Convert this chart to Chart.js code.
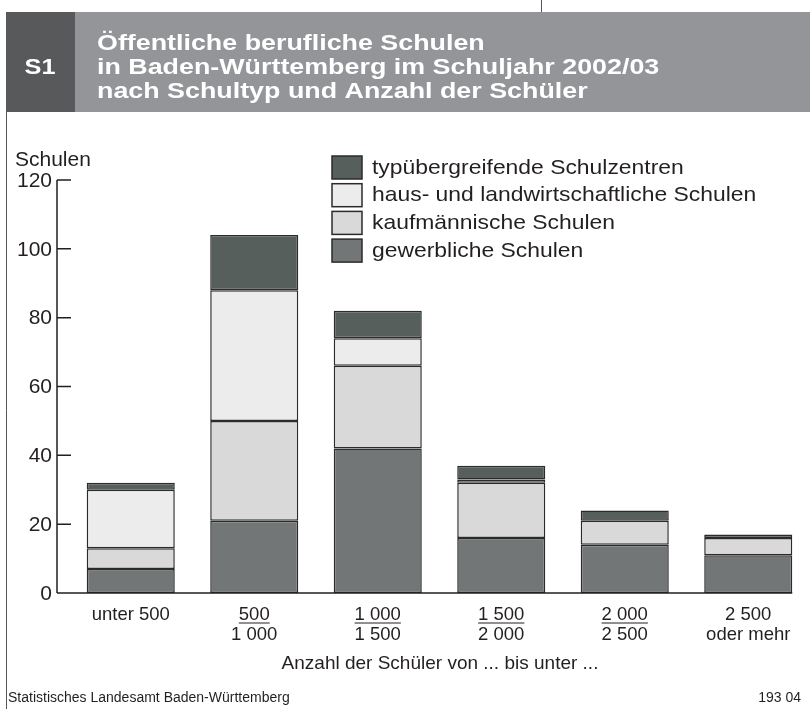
<!DOCTYPE html>
<html>
<head>
<meta charset="utf-8">
<script src="https://cdn.jsdelivr.net/npm/chart.js@4.4.1/dist/chart.umd.min.js"></script>
<style>
  body { margin: 0; background: #fff; overflow: hidden; }
  #wrap { position: relative; width: 810px; height: 709px; }
</style>
</head>
<body>
<div id="wrap"><canvas id="schulChart" width="810" height="709"></canvas></div>
<script>
// Daten
const kategorien = ['unter 500', '500 - 1 000', '1 000 - 1 500', '1 500 - 2 000', '2 000 - 2 500', '2 500 oder mehr'];
const labelOben = ['unter 500', '500', '1 000', '1 500', '2 000', '2 500'];
const labelUnten = ['', '1 000', '1 500', '2 000', '2 500', 'oder mehr'];
const unterstrichen = [false, true, true, true, true, false];

const gewerblich = [7, 21, 42, 16, 14, 11];
const kaufmaennisch = [6, 29, 24, 16, 7, 5];
const hauswirtschaft = [17, 38, 8, 1, 0, 0];
const typuebergreifend = [2, 16, 8, 4, 3, 1];

const yTicks = [0, 20, 40, 60, 80, 100, 120];

const titelZeilen = [
  'Öffentliche berufliche Schulen',
  'in Baden-Württemberg im Schuljahr 2002/03',
  'nach Schultyp und Anzahl der Schüler'
];

const FONT = '"Liberation Sans", Arial, Helvetica, sans-serif';
const RAND = '#2b2b2b';

const ctx = document.getElementById('schulChart').getContext('2d');

// Text mit horizontaler Streckung (die Vorlage nutzt eine breitere Schrift)
function breitText(c, txt, x, y, sx) {
  c.save();
  c.translate(x, y);
  c.scale(sx, 1);
  c.fillText(txt, 0, 0);
  c.restore();
}

// alles was nicht Balken ist, wird hier gezeichnet
const rahmenPlugin = {
  id: 'rahmen',
  beforeDraw(chart) {
    const c = chart.ctx;
    c.save();
    c.fillStyle = '#fff';
    c.fillRect(0, 0, 810, 709);
    // Kopfzeile
    c.fillStyle = '#939598';
    c.fillRect(6, 12, 804, 100);
    c.fillStyle = '#58595b';
    c.fillRect(6, 12, 69, 100);
    c.fillStyle = '#fff';
    c.font = 'bold 22px ' + FONT;
    c.textAlign = 'center';
    c.textBaseline = 'alphabetic';
    breitText(c, 'S1', 40, 74, 1.15);
    c.textAlign = 'left';
    c.font = 'bold 22px ' + FONT;
    titelZeilen.forEach((z, i) => breitText(c, z, 97, 50 + i * 24, 1.22));
    // Linien
    c.strokeStyle = '#555';
    c.lineWidth = 1;
    c.beginPath();
    c.moveTo(541.5, 0); c.lineTo(541.5, 12);
    c.moveTo(6.5, 112); c.lineTo(6.5, 709);
    c.stroke();
    c.restore();
  },
  afterDatasetsDraw(chart) {
    const c = chart.ctx;
    const y = chart.scales.y;
    const x = chart.scales.x;
    const achseX = 57;
    c.save();
    c.strokeStyle = '#231f20';
    c.lineWidth = 1.5;
    c.beginPath();
    c.moveTo(achseX, y.getPixelForValue(120));
    c.lineTo(achseX, y.getPixelForValue(0));
    yTicks.forEach(t => {
      const py = y.getPixelForValue(t);
      c.moveTo(achseX, py);
      c.lineTo(achseX + 14, py);
    });
    // Grundlinie
    const ende = x.getPixelForValue(5) + 44;
    c.moveTo(achseX, y.getPixelForValue(0));
    c.lineTo(ende, y.getPixelForValue(0));
    c.stroke();

    c.fillStyle = '#231f20';
    c.font = '21px ' + FONT;
    c.textAlign = 'right';
    c.textBaseline = 'middle';
    yTicks.forEach(t => c.fillText(String(t), 52, y.getPixelForValue(t) + 1));

    c.textAlign = 'left';
    c.textBaseline = 'alphabetic';
    c.font = '20px ' + FONT;
    breitText(c, 'Schulen', 15, 166, 1.05);

    // x-Beschriftung
    c.font = '18.5px ' + FONT;
    c.textAlign = 'center';
    c.lineWidth = 1;
    labelOben.forEach((txt, i) => {
      const px = x.getPixelForValue(i);
      c.fillText(txt, px, 620);
      if (labelUnten[i]) c.fillText(labelUnten[i], px, 640);
      if (unterstrichen[i]) {
        const w = c.measureText(txt).width;
        c.beginPath();
        c.moveTo(px - w / 2, 623);
        c.lineTo(px + w / 2, 623);
        c.stroke();
      }
    });
    c.font = '19px ' + FONT;
    c.fillText('Anzahl der Schüler von ... bis unter ...', 440, 669);

    // Legende
    const leg = chart.data.datasets.slice().reverse();
    c.font = '21px ' + FONT;
    c.textAlign = 'left';
    c.textBaseline = 'middle';
    leg.forEach((ds, i) => {
      const top = 156 + i * 27.7;
      c.fillStyle = ds.backgroundColor;
      c.fillRect(332, top, 30, 23);
      c.strokeStyle = RAND;
      c.lineWidth = 1.5;
      c.strokeRect(332, top, 30, 23);
      c.fillStyle = '#231f20';
      breitText(c, ds.label, 372, top + 12, 1.09);
    });

    // Fusszeile
    c.font = '14px ' + FONT;
    c.textBaseline = 'alphabetic';
    c.fillText('Statistisches Landesamt Baden-Württemberg', 8, 702);
    c.textAlign = 'right';
    c.fillText('193 04', 801, 702);
    c.restore();
  }
};

const chart = new Chart(ctx, {
  type: 'bar',
  data: {
    labels: kategorien,
    datasets: [
      { label: 'gewerbliche Schulen', data: gewerblich, backgroundColor: '#737677' },
      { label: 'kaufmännische Schulen', data: kaufmaennisch, backgroundColor: '#d9d9d9' },
      { label: 'haus- und landwirtschaftliche Schulen', data: hauswirtschaft, backgroundColor: '#ececec' },
      { label: 'typübergreifende Schulzentren', data: typuebergreifend, backgroundColor: '#575f5d' }
    ]
  },
  options: {
    responsive: false,
    animation: false,
    layout: { padding: { left: 69, right: 0, top: 180, bottom: 116 } },
    datasets: {
      bar: {
        borderColor: RAND,
        borderWidth: 1.5,
        borderSkipped: false,
        barPercentage: 0.713,
        categoryPercentage: 1
      }
    },
    scales: {
      x: { stacked: true, display: false },
      y: { stacked: true, display: false, min: 0, max: 120 }
    },
    plugins: {
      legend: { display: false },
      tooltip: { enabled: false }
    }
  },
  plugins: [rahmenPlugin]
});
</script>
</body>
</html>
